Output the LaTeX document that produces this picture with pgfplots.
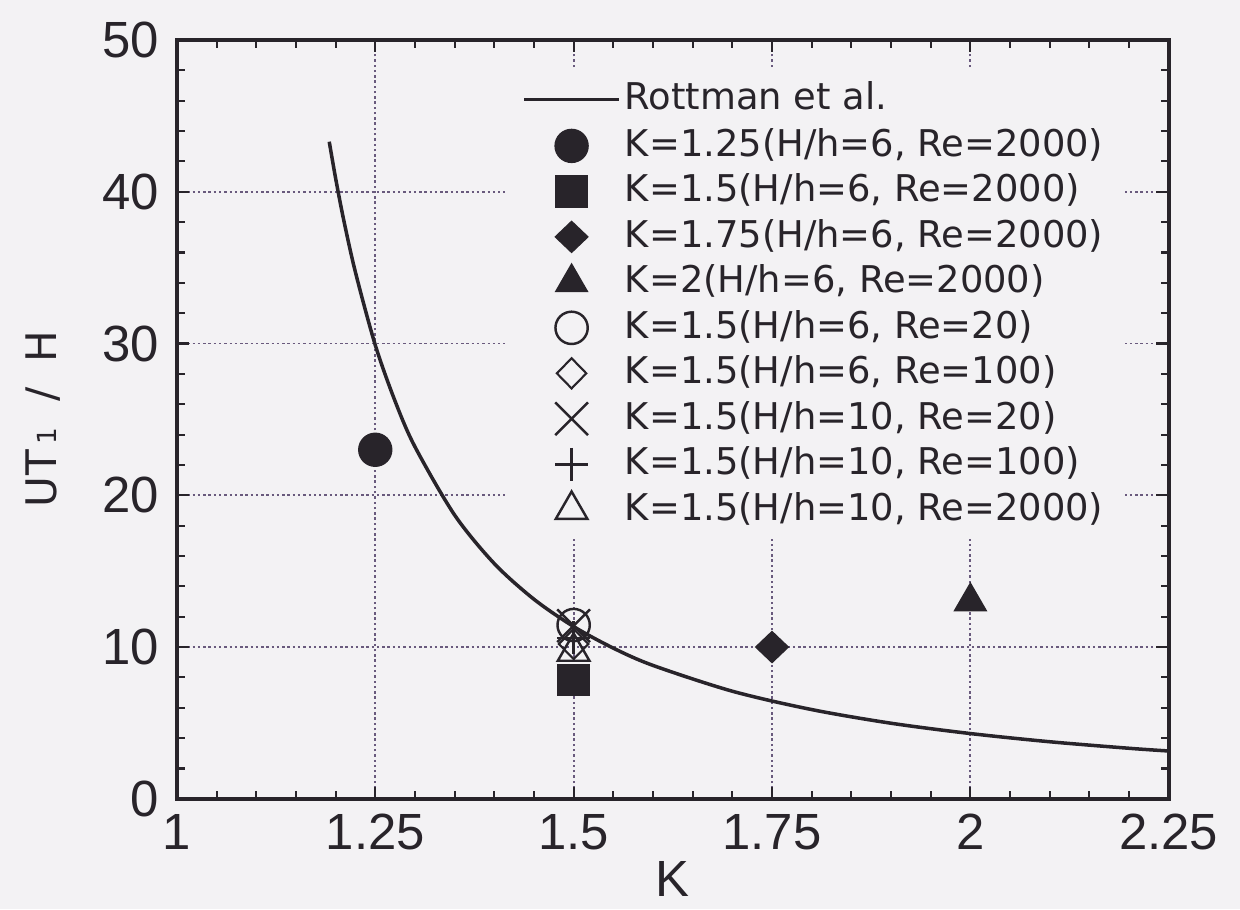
\documentclass[border=0pt]{standalone}
\usepackage{fontspec}
\setmainfont{DejaVu Sans}
\newfontfamily\tickfont{Liberation Sans}
\usepackage{pgfplots}
\pgfplotsset{compat=1.18}
\usetikzlibrary{backgrounds}
\definecolor{bg}{RGB}{243,242,244}
\definecolor{ink}{RGB}{40,36,42}
\definecolor{gridc}{RGB}{105,90,125}
\pgfplotsset{
  markleg/.style={legend image code/.code={\path (0pt,-5.25pt) (27pt,5.25pt); \draw[##1] plot coordinates {(13.5pt,0pt)};}},
  lineleg/.style={legend image code/.code={\path (0pt,-5.25pt) (27pt,5.25pt); \draw[##1] (0pt,0pt) -- (27pt,0pt);}},
}
\begin{document}
\begin{tikzpicture}[show background rectangle, inner frame sep=0pt, background rectangle/.style={fill=bg, draw=none}]
\begin{axis}[
  scale only axis, width=282.6pt, height=216.2pt,
  xmin=1, xmax=2.25, ymin=0, ymax=50,
  xtick={1,1.25,1.5,1.75,2,2.25}, ytick={0,10,20,30,40,50},
  minor x tick num=4, minor y tick num=4,
  tick align=inside, major tick length=3.5pt, minor tick length=2.3pt,
  tick style={ink, line width=0.6pt},
  axis line style={ink, line width=1pt},
  grid=major,
  major grid style={gridc, line width=0.55pt, dash pattern=on 0.7pt off 0.8pt},
  /pgf/number format/assume math mode=true,
  ticklabel style={font=\tickfont\fontsize{14.5}{16}\selectfont, text=ink},
  xticklabel style={yshift=-0.8pt},
  yticklabel style={xshift=-1.5pt},
  xlabel={K},
  xlabel style={at={(axis description cs:0.5,-0.129)}, anchor=base, inner sep=0pt, font=\tickfont\fontsize{14.5}{16}\selectfont, text=ink},
  ylabel={U\kern0.5pt T\kern1.5pt{\fontsize{7.5}{9}\selectfont 1}\hspace{7.5pt}/\hspace{7pt}H},
  ylabel style={at={(axis description cs:-0.121,0.5)}, anchor=base, rotate=0, font=\fontsize{12}{14}\selectfont, text=ink},
  legend cell align=left,
  legend style={at={(axis description cs:0.330,0.9632)}, anchor=north west, draw=none, fill=bg,
    inner xsep=5pt, inner ysep=3pt, row sep=2.06pt,
    font=\fontsize{10.5}{12}\selectfont, text=ink,
    nodes={inner xsep=1.2pt, inner ysep=0pt, text height=8.2pt, text depth=2.3pt}},
]
\addplot[ink, line width=1pt, smooth, lineleg] coordinates {
(1.192,43.3) (1.2,40.9) (1.21,38.2) (1.225,34.7) (1.25,29.9) (1.275,26.2)
(1.3,23.2) (1.35,18.7) (1.4,15.5) (1.45,13.15) (1.5,11.35) (1.55,9.93)
(1.6,8.79) (1.7,7.09) (1.8,5.88) (1.9,4.98) (2.0,4.3) (2.1,3.76) (2.2,3.33) (2.25,3.15)
};
\addlegendentry{Rottman et al.}
\addplot[only marks, markleg, mark=*, mark size=4.7pt, mark options={draw=ink, fill=ink, line width=0.4pt}] coordinates {(1.25,23.0)};
\addlegendentry{K=1.25(H/h=6, Re=2000)}
\addplot[only marks, markleg, mark=square*, mark size=4.4pt, mark options={draw=ink, fill=ink, line width=0.4pt}] coordinates {(1.5,7.85)};
\addlegendentry{K=1.5(H/h=6, Re=2000)}
\addplot[only marks, markleg, mark=diamond*, mark size=4.4pt, mark options={xscale=1.4, draw=ink, fill=ink, line width=0.4pt}] coordinates {(1.75,10.0)};
\addlegendentry{K=1.75(H/h=6, Re=2000)}
\addplot[only marks, markleg, mark=triangle*, mark size=5.2pt, mark options={draw=ink, fill=ink, line width=0.4pt}] coordinates {(2,13.0)};
\addlegendentry{K=2(H/h=6, Re=2000)}
\addplot[only marks, markleg, mark=o, mark size=4.6pt, mark options={draw=ink, line width=0.7pt}] coordinates {(1.5,11.45)};
\addlegendentry{K=1.5(H/h=6, Re=20)}
\addplot[only marks, markleg, mark=diamond, mark size=4.3pt, mark options={xscale=1.3, draw=ink, line width=0.6pt}] coordinates {(1.5,10.2)};
\addlegendentry{K=1.5(H/h=6, Re=100)}
\addplot[only marks, markleg, mark=x, mark size=6.6pt, mark options={draw=ink, line width=0.7pt}] coordinates {(1.5,11.4)};
\addlegendentry{K=1.5(H/h=10, Re=20)}
\addplot[only marks, markleg, mark=+, mark size=4.7pt, mark options={draw=ink, line width=0.7pt}] coordinates {(1.5,10.6)};
\addlegendentry{K=1.5(H/h=10, Re=100)}
\addplot[only marks, markleg, mark=triangle, mark size=5.2pt, mark options={draw=ink, line width=0.7pt}] coordinates {(1.5,9.7)};
\addlegendentry{K=1.5(H/h=10, Re=2000)}
\end{axis}
\pgfresetboundingbox
\path[use as bounding box] ([shift={(-50.4pt,-31.4pt)}]current axis.south west) rectangle ([shift={(20.3pt,11.4pt)}]current axis.north east);
\end{tikzpicture}
\end{document}
